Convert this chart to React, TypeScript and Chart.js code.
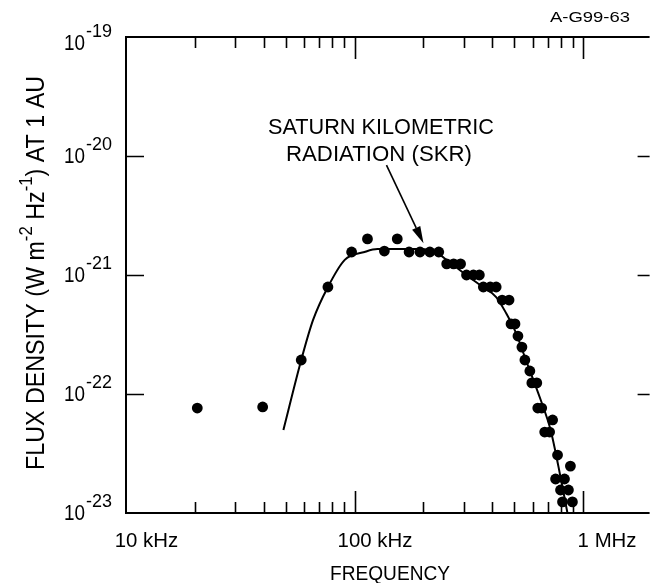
import React, { useEffect, useRef } from "react";
import { Chart, registerables } from "chart.js";

Chart.register(...registerables);

// ---- data ----
const FREQ_KHZ = [
  20.5, 39.6, 58.4, 76.4, 97.0, 113.8, 134.9, 153.6, 173.0, 193.1, 213.3, 233.3,
  252.7, 271.0, 290.6, 308.5, 330.7, 351.2, 365.5, 391.8, 415.9, 441.6, 473.5,
  483.1, 502.7, 517.9, 539.0, 555.4, 583.9, 595.7, 626.0, 632.3, 657.9, 734.2,
  677.9, 712.5, 771.7, 878.4, 756.6, 827.4, 795.2, 861.1, 811.2, 896.2,
];
const FLUX = [
  7.62e-23, 7.78e-23, 1.93e-22, 7.93e-22, 1.56e-21, 2.01e-21, 1.59e-21, 2.01e-21,
  1.56e-21, 1.56e-21, 1.56e-21, 1.56e-21, 1.24e-21, 1.24e-21, 1.24e-21, 1.0e-21,
  1.0e-21, 1.0e-21, 7.93e-22, 7.93e-22, 7.93e-22, 6.16e-22, 6.16e-22, 3.88e-22,
  3.88e-22, 3.07e-22, 2.48e-22, 1.93e-22, 1.56e-22, 1.24e-22, 1.24e-22, 7.62e-23,
  7.62e-23, 6.05e-23, 4.79e-23, 4.79e-23, 3.07e-23, 2.48e-23, 1.93e-23, 1.93e-23,
  1.56e-23, 1.56e-23, 1.24e-23, 1.24e-23,
];
const FIT_KHZ = [
  48.8, 58.4, 65.8, 76.4, 90.5, 110.5, 125.8, 149, 193, 228.8, 252.7, 299.4,
  358.3, 415.9, 459.5, 507.7, 561, 651.5, 719.6, 779.6, 852.5,
];
const FIT_FLUX = [
  4.98e-23, 1.93e-22, 4.19e-22, 7.93e-22, 1.34e-21, 1.56e-21, 1.65e-21, 1.65e-21,
  1.65e-21, 1.53e-21, 1.34e-21, 1.04e-21, 8.08e-22, 6.53e-22, 4.79e-22, 3.26e-22,
  1.93e-22, 8.9e-23, 4.98e-23, 2.43e-23, 1.0e-23,
];
const X_MIN_KHZ = 10;
const X_MAX_KHZ = 1950;
const X_TICK_KHZ = [10, 100, 1000];
const X_TICK_LABELS = ["10 kHz", "100 kHz", "1 MHz"];
const Y_TICKS = [1e-19, 1e-20, 1e-21, 1e-22, 1e-23];
const Y_TICK_EXP = ["-19", "-20", "-21", "-22", "-23"];
const X_TITLE = "FREQUENCY";
const Y_TITLE_RUNS: [string, boolean][] = [
  ["FLUX DENSITY (W m", false],
  ["-2", true],
  [" Hz", false],
  ["-1", true],
  [") AT 1 AU", false],
];
const NOTE_LINES = ["SATURN KILOMETRIC", "RADIATION (SKR)"];
const FIG_ID = "A-G99-63";

const FONT = '"Liberation Sans", Arial, sans-serif';

function drawFit(
  ctx: CanvasRenderingContext2D,
  text: string,
  x: number,
  y: number,
  width: number,
  size: number
) {
  ctx.save();
  ctx.font = `${size}px ${FONT}`;
  ctx.textAlign = "left";
  ctx.textBaseline = "alphabetic";
  const w = ctx.measureText(text).width;
  ctx.translate(x, y);
  ctx.scale(width / w, 1);
  ctx.fillText(text, 0, 0);
  ctx.restore();
}

const decorPlugin = {
  id: "decor",
  afterDatasetsDraw(chart: any) {
    const { ctx, chartArea: a, scales } = chart;
    const xs = scales.x;
    const ys = scales.y;
    ctx.save();
    ctx.strokeStyle = "#000";
    ctx.fillStyle = "#000";
    ctx.lineCap = "butt";

    // frame
    ctx.lineWidth = 2;
    ctx.beginPath();
    ctx.moveTo(a.right, a.top);
    ctx.lineTo(a.left, a.top);
    ctx.lineTo(a.left, a.bottom);
    ctx.lineTo(a.right, a.bottom);
    ctx.stroke();

    // x ticks (inward, top and bottom)
    ctx.lineWidth = 1.6;
    for (const d of X_TICK_KHZ) {
      for (let m = 1; m <= 9; m++) {
        const v = d * m;
        if (v <= xs.min || v > xs.max) continue;
        const px = Math.round(xs.getPixelForValue(v)) + 0.5;
        const len = m === 1 ? 22 : 11;
        ctx.beginPath();
        ctx.moveTo(px, a.bottom);
        ctx.lineTo(px, a.bottom - len);
        ctx.moveTo(px, a.top);
        ctx.lineTo(px, a.top + len);
        ctx.stroke();
      }
    }
    // y ticks
    for (const v of Y_TICKS) {
      if (v >= ys.max || v <= ys.min) continue;
      const py = Math.round(ys.getPixelForValue(v)) + 0.5;
      ctx.beginPath();
      ctx.moveTo(a.left, py);
      ctx.lineTo(a.left + 18, py);
      ctx.moveTo(a.right, py);
      ctx.lineTo(a.right - 12, py);
      ctx.stroke();
    }

    // y tick labels 10^n
    Y_TICKS.forEach((v, i) => {
      const py = ys.getPixelForValue(v);
      const base = i === 0 ? py + 13 : py + 7;
      drawFit(ctx, "10", 64, base, 21, 22);
      drawFit(ctx, Y_TICK_EXP[i], 86, base - 13, 26, 19);
    });

    // x tick labels: numeric part centred on the tick
    X_TICK_KHZ.forEach((v, i) => {
      const px = xs.getPixelForValue(v);
      const label = X_TICK_LABELS[i];
      ctx.font = `20px ${FONT}`;
      const num = label.split(" ")[0];
      const k = 1.02;
      const wNum = ctx.measureText(num).width * k;
      const wAll = ctx.measureText(label).width * k;
      drawFit(ctx, label, px - wNum / 2, 547, wAll, 20);
    });

    // x title
    drawFit(ctx, X_TITLE, 330, 580, 120, 21);

    // y title (rotated, with superscripts)
    {
      const size = 25;
      const sup = 18;
      ctx.save();
      ctx.translate(44, 470);
      ctx.rotate(-Math.PI / 2);
      let total = 0;
      for (const [t, s] of Y_TITLE_RUNS) {
        ctx.font = `${s ? sup : size}px ${FONT}`;
        total += ctx.measureText(t).width;
      }
      const target = 394;
      ctx.scale(target / total, 1);
      let x = 0;
      ctx.textBaseline = "alphabetic";
      for (const [t, s] of Y_TITLE_RUNS) {
        ctx.font = `${s ? sup : size}px ${FONT}`;
        ctx.fillText(t, x, s ? -12 : 0);
        x += ctx.measureText(t).width;
      }
      ctx.restore();
    }

    // annotation
    drawFit(ctx, NOTE_LINES[0], 268, 134, 226, 22);
    drawFit(ctx, NOTE_LINES[1], 286, 161, 186, 22);
    // arrow pointing at the plateau (anchored in data space)
    {
      const tipX = xs.getPixelForValue(200);
      const tipY = ys.getPixelForValue(1.85e-21);
      const sx = tipX - 37;
      const sy = tipY - 78;
      const ang = Math.atan2(tipY - sy, tipX - sx);
      const hl = 17;
      const hw = 4.5;
      ctx.lineWidth = 1.6;
      ctx.beginPath();
      ctx.moveTo(sx, sy);
      ctx.lineTo(tipX - Math.cos(ang) * hl, tipY - Math.sin(ang) * hl);
      ctx.stroke();
      ctx.beginPath();
      ctx.moveTo(tipX, tipY);
      const bx = tipX - Math.cos(ang) * hl;
      const by = tipY - Math.sin(ang) * hl;
      ctx.lineTo(bx + Math.sin(ang) * hw, by - Math.cos(ang) * hw);
      ctx.lineTo(bx - Math.sin(ang) * hw, by + Math.cos(ang) * hw);
      ctx.closePath();
      ctx.fill();
    }

    // figure id
    drawFit(ctx, FIG_ID, 550, 22, 80, 15);
    ctx.restore();
  },
};

export default function App() {
  const ref = useRef<HTMLCanvasElement | null>(null);
  useEffect(() => {
    if (!ref.current) return;
    const points = FREQ_KHZ.map((f, i) => ({ x: f, y: FLUX[i] }));
    const fit = FIT_KHZ.map((f, i) => ({ x: f, y: FIT_FLUX[i] }));
    const chart = new Chart(ref.current, {
      type: "scatter",
      data: {
        datasets: [
          {
            data: fit,
            showLine: true,
            borderColor: "#000",
            borderWidth: 2,
            pointRadius: 0,
            cubicInterpolationMode: "monotone",
            fill: false,
          } as any,
          {
            data: points,
            pointRadius: 5.4,
            pointHoverRadius: 5.4,
            pointBackgroundColor: "#000",
            pointBorderColor: "#000",
            pointBorderWidth: 0,
            showLine: false,
          } as any,
        ],
      },
      options: {
        responsive: false,
        animation: false,
        devicePixelRatio: 1,
        layout: { padding: { left: 126, top: 37, right: 0, bottom: 70 } },
        plugins: { legend: { display: false }, tooltip: { enabled: false } },
        events: [],
        scales: {
          x: { type: "logarithmic", min: X_MIN_KHZ, max: X_MAX_KHZ, display: false },
          y: { type: "logarithmic", min: 1e-23, max: 1e-19, display: false },
        },
      },
      plugins: [decorPlugin],
    });
    return () => chart.destroy();
  }, []);
  return (
    <div style={{ position: "absolute", left: 0, top: 0, width: 655, height: 583, background: "#fff" }}>
      <canvas ref={ref} width={655} height={583} style={{ display: "block" }} />
    </div>
  );
}
